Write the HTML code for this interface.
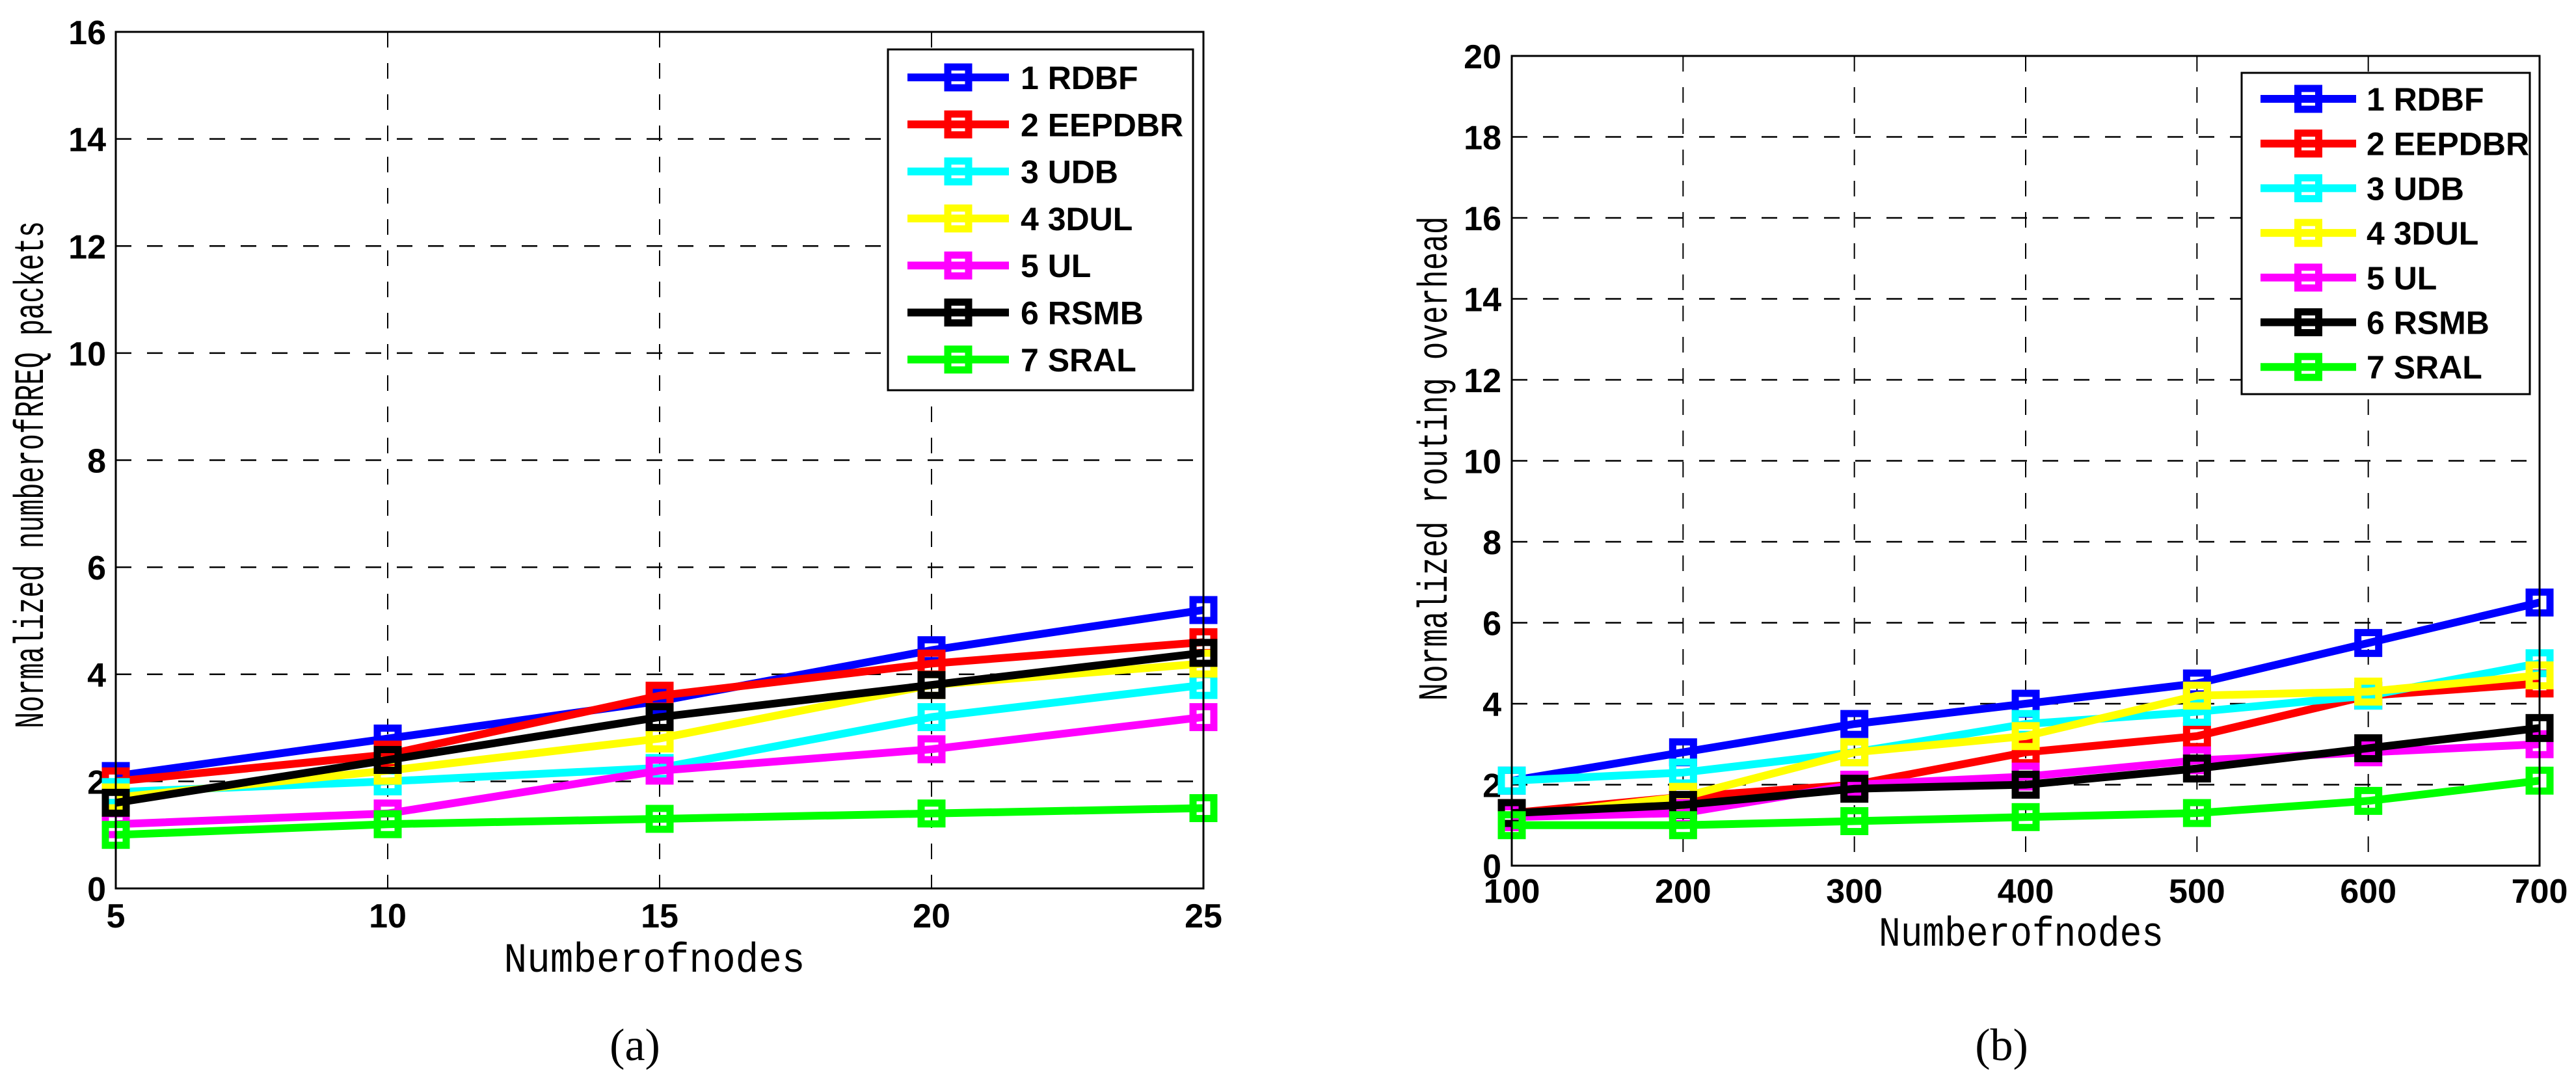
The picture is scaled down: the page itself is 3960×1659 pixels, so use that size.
<!DOCTYPE html>
<html><head><meta charset="utf-8"><style>
html,body{margin:0;padding:0;background:#fff;}
svg{display:block;}
.tick{font-family:"Liberation Sans Narrow","Liberation Sans",sans-serif;font-weight:bold;font-size:52px;fill:#000;}
.ttl{font-family:"Liberation Mono","Courier New",monospace;font-size:64px;fill:#000;}
.leg{font-family:"Liberation Sans",Arial,sans-serif;font-weight:bold;font-size:50px;fill:#000;}
.cap{font-family:"Liberation Serif",serif;font-size:70px;fill:#000;}
</style></head><body>
<svg id="fig" width="3960" height="1659" viewBox="0 0 3960 1659" xmlns="http://www.w3.org/2000/svg"></svg>
<script>
const seriesNames = ["1 RDBF","2 EEPDBR","3 UDB","4 3DUL","5 UL","6 RSMB","7 SRAL"];
const seriesColors = ["#0000ff","#ff0000","#00ffff","#ffff00","#ff00ff","#000000","#00ff00"];
// Chart (a)
const aX = [5,10,15,20,25];
const aRDBF = [2.1,2.8,3.5,4.45,5.2];
const aEEPDBR = [2.0,2.5,3.6,4.2,4.6];
const aUDB = [1.8,2.0,2.25,3.2,3.8];
const a3DUL = [1.7,2.2,2.8,3.8,4.2];
const aUL = [1.2,1.4,2.2,2.6,3.2];
const aRSMB = [1.6,2.4,3.2,3.8,4.4];
const aSRAL = [1.0,1.2,1.3,1.4,1.5];
const aYTicks = [0,2,4,6,8,10,12,14,16];
const aXTicks = [5,10,15,20,25];
// Chart (b)
const bX = [100,200,300,400,500,600,700];
const bRDBF = [2.1,2.8,3.5,4.0,4.5,5.5,6.5];
const bEEPDBR = [1.3,1.7,2.0,2.8,3.2,4.2,4.5];
const bUDB = [2.1,2.3,2.8,3.5,3.8,4.2,5.0];
const b3DUL = [1.2,1.7,2.8,3.2,4.2,4.3,4.7];
const bUL = [1.2,1.3,2.0,2.2,2.6,2.8,3.0];
const bRSMB = [1.3,1.5,1.9,2.0,2.4,2.9,3.4];
const bSRAL = [1.0,1.0,1.1,1.2,1.3,1.6,2.1];
const bYTicks = [0,2,4,6,8,10,12,14,16,18,20];
const bXTicks = [100,200,300,400,500,600,700];

const NS = "http://www.w3.org/2000/svg";
const svg = document.getElementById('fig');
function mk(tag, attrs, parent, text){
  const e = document.createElementNS(NS, tag);
  for (const k in attrs) e.setAttribute(k, attrs[k]);
  if (text !== undefined) e.textContent = text;
  (parent||svg).appendChild(e);
  return e;
}

function drawChart(cfg){
  const g = mk('g', {});
  
  
  const sx = v => cfg.L + (v - cfg.xmin)/(cfg.xmax - cfg.xmin)*(cfg.R - cfg.L);
  const sy = v => cfg.B - (v - cfg.ymin)/(cfg.ymax - cfg.ymin)*(cfg.B - cfg.T);
  cfg.xTicks.forEach(v => {
    if (v === cfg.xmin || v === cfg.xmax) return;
    const l = mk('line', {x1:sx(v), x2:sx(v), y1:cfg.T, y2:cfg.B, stroke:'#000', 'stroke-width':2, 'stroke-dasharray':'24 24'}, g);
    
    
  });
  cfg.yTicks.forEach(v => {
    if (v === cfg.ymin || v === cfg.ymax) return;
    const l = mk('line', {x1:cfg.L, x2:cfg.R, y1:sy(v), y2:sy(v), stroke:'#000', 'stroke-width':2.5, 'stroke-dasharray':'24 24'}, g);
    
    
  });
  cfg.yTicks.forEach(v => {
    const t = mk('text', {x:cfg.yLabelRight, y:sy(v)+19, 'text-anchor':'end', class:'tick'}, g, String(v));
    
    
  });
  cfg.xTicks.forEach(v => {
    const t = mk('text', {x:sx(v), y:cfg.xLabelBase, 'text-anchor':'middle', class:'tick'}, g, String(v));
    
    
  });
  cfg.series.forEach((vals, i) => {
    const sg = mk('g', {}, g);
    
    
    const pts = vals.map((v, j) => sx(cfg.xs[j]) + ',' + sy(v)).join(' ');
    const pl = mk('polyline', {points:pts, fill:'none', stroke:seriesColors[i], 'stroke-width':12, 'stroke-linejoin':'miter'}, sg);
    
    
    vals.forEach((v, j) => {
      const m = mk('rect', {x:sx(cfg.xs[j])-16, y:sy(v)-16, width:32, height:32, fill:'none', stroke:seriesColors[i], 'stroke-width':11}, sg);
      
      
    });
  });
  const fr = mk('rect', {x:cfg.L, y:cfg.T, width:cfg.R-cfg.L, height:cfg.B-cfg.T, fill:'none', stroke:'#000', 'stroke-width':3}, g);
  
  
  const lg = mk('g', {}, g);
  
  
  mk('rect', {x:cfg.lg.x, y:cfg.lg.y, width:cfg.lg.w, height:cfg.lg.h, fill:'#fff', stroke:'#000', 'stroke-width':3}, lg);
  seriesNames.forEach((n, i) => {
    const cy = cfg.lg.y0 + i*cfg.lg.dy;
    const e = mk('g', {}, lg);
    
    
    mk('line', {x1:cfg.lg.lx1, x2:cfg.lg.lx2, y1:cy, y2:cy, stroke:seriesColors[i], 'stroke-width':12}, e);
    const mx = (cfg.lg.lx1+cfg.lg.lx2)/2;
    mk('rect', {x:mx-16, y:cy-16, width:32, height:32, fill:'none', stroke:seriesColors[i], 'stroke-width':11}, e);
    mk('text', {x:cfg.lg.tx, y:cy+18, class:'leg'}, e, n);
  });
  const xt = mk('text', {x:cfg.xTitle[0], y:cfg.xTitle[1], 'text-anchor':'middle', class:'ttl', textLength:cfg.xTitle[2], lengthAdjust:'spacingAndGlyphs'}, g, 'Numberofnodes');
  
  
  const yt = mk('text', {x:0, y:0, 'text-anchor':'middle', class:'ttl', textLength:cfg.yTitle[3], lengthAdjust:'spacingAndGlyphs', transform:`translate(${cfg.yTitle[0]},${cfg.yTitle[1]}) rotate(-90)`}, g, cfg.yTitle[2]);
  
  
  const cp = mk('text', {x:cfg.cap[0], y:cfg.cap[1], 'text-anchor':'middle', class:'cap'}, g, cfg.cap[2]);
  
  
}

drawChart({name:'chart-a', L:178, R:1850, T:49, B:1366, xmin:5, xmax:25, ymin:0, ymax:16,
  xTicks:aXTicks, yTicks:aYTicks, xs:aX, series:[aRDBF,aEEPDBR,aUDB,a3DUL,aUL,aRSMB,aSRAL],
  yLabelRight:163, xLabelBase:1426,
  lg:{x:1365, y:76, w:469, h:524, y0:119, dy:72.3, lx1:1395, lx2:1551, tx:1569},
  xTitle:[1006,1494,463], yTitle:[66,730,'Normalized numberofRREQ packets',780], cap:[976,1630,'(a)']});

drawChart({name:'chart-b', L:2324, R:3904, T:86, B:1331, xmin:100, xmax:700, ymin:0, ymax:20,
  xTicks:bXTicks, yTicks:bYTicks, xs:bX, series:[bRDBF,bEEPDBR,bUDB,b3DUL,bUL,bRSMB,bSRAL],
  yLabelRight:2308, xLabelBase:1388,
  lg:{x:3446, y:112, w:443, h:494, y0:152, dy:68.7, lx1:3475, lx2:3622, tx:3638},
  xTitle:[3107,1454,438], yTitle:[2224,705,'Normalized routing overhead',745], cap:[3077,1630,'(b)']});
</script>
</body></html>
